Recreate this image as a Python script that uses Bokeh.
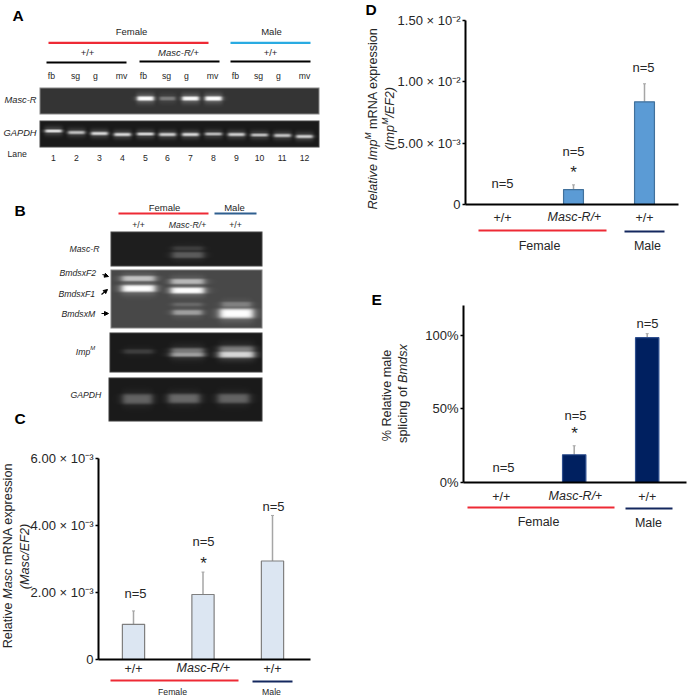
import math
import numpy as np
from bokeh.embed import file_html
from bokeh.layouts import row, column
from bokeh.models import (ColumnDataSource, FixedTicker, Label, NormalHead, Arrow,
                          PolyAnnotation, Range1d, TeeHead, Whisker)
from bokeh.plotting import figure
from bokeh.resources import INLINE

FONT = "Liberation Sans"
INK = "#262626"

# ---- bar data (y in units of the axis; C and D in 1e-3) ----
groups = ["+/+", "Masc-R/+", "+/+"]
c_values = [1.05, 1.94, 2.94]
c_errors = [1.45, 2.61, 4.30]
d_values = [0.0, 1.22, 8.37]
d_errors = [0.0, 1.60, 9.84]
e_values = [0.0, 18.8, 98.2]
e_errors = [0.0, 24.9, 100.9]
c_ticks = {0: "0", 2: "2.00 × 10⁻³", 4: "4.00 × 10⁻³", 6: "6.00 × 10⁻³"}
d_ticks = {0: "0", 5: "5.00 × 10⁻³", 10: "1.00 × 10⁻²", 15: "1.50 × 10⁻²"}
e_ticks = {0: "0%", 50: "50%", 100: "100%"}

# ---- gel lanes: x centre, y centre, half width, half height, level ----
lane_numbers = ["1", "2", "3", "4", "5", "6", "7", "8", "9", "10", "11", "12"]
tissues = ["fb", "sg", "g", "mv"] * 3
tissue_x = [51, 75, 95, 121, 143, 166, 186, 212, 235, 258, 278, 304]
lane_x = [53, 76, 99, 122, 145, 167, 190, 213, 236, 259, 282, 304]
a_r_bands = [(145, 98, 8.5, 2.5, 255), (167, 98, 8, 2.2, 125), (190, 98, 8.5, 2.4, 250), (213, 98, 8.5, 2.5, 255)]
gapdh_y = [130.5, 132, 133, 134, 133.5, 134, 134, 133.5, 134, 134.5, 135, 136]
gapdh_lv = [225, 190, 215, 215, 215, 205, 215, 185, 205, 190, 195, 205]
b_r_bands = [(187.5, 254.5, 16, 3.5, 92), (187.5, 248, 15.5, 2.6, 62)]
b_dsx_bands = [(138, 278, 17, 3, 195), (138, 288, 17, 3.8, 255), (187, 281, 17, 3, 185), (187, 290, 17, 3.4, 255),
               (187, 304, 15, 2, 105), (187, 312, 15, 2.8, 160), (236, 304, 15, 3, 130), (236, 313, 17, 5.2, 255)]
b_imp_bands = [(138, 351, 15, 2.6, 62), (187, 352, 16.5, 5, 125), (187, 354, 17, 2.6, 160),
               (236, 351, 17.5, 6, 130), (236, 354, 18, 3.6, 215)]
b_gap_bands = [(137, 398.5, 15, 5.5, 100), (183.5, 398, 16, 5.2, 105), (233, 398, 16, 5.2, 100)]

WIDTHS = dict(zip(" %()*+-/=", [278, 889, 333, 333, 389, 584, 333, 278, 584]))
WIDTHS.update(dict(zip("ABCDEFGHIJKLMNOPQRSTUVWXYZ", [667, 667, 722, 722, 667, 611, 778, 722, 278, 500, 667, 556, 833,
                                                      722, 778, 667, 778, 722, 667, 611, 722, 667, 944, 667, 667, 611])))
WIDTHS.update(dict(zip("abcdefghijklmnopqrstuvwxyz", [556, 556, 500, 556, 556, 278, 556, 556, 222, 222, 500, 222, 833,
                                                      556, 556, 556, 556, 333, 500, 278, 556, 500, 722, 500, 500, 500])))


def width(t, size):
    return sum(WIDTHS.get(ch, 556) for ch in t) * size / 1000


class Panel:
    """A figure whose frame fills its canvas; cal = (x0_px, step_px, axis_px, end_px, base_px, top_px, top_value)."""

    def __init__(self, fx, fy, w, h, cal=None, yticks=None):
        self.left, self.bottom = fx, fy + h
        if cal is None:
            xr, yr = (fx, fx + w), (-(fy + h), -fy)
        else:
            x0, step, axis_px, end_px, base, top_px, top_val = cal
            ppu = (base - top_px) / top_val
            xr = ((fx - x0) / step, (fx + w - x0) / step)
            yr = ((base - fy - h) / ppu, (base - fy) / ppu)
        self.p = figure(width=w, height=h, output_backend="svg", toolbar_location=None, frame_align=False,
                        x_range=Range1d(*xr), y_range=Range1d(*yr),
                        min_border_left=0, min_border_right=0, min_border_top=0, min_border_bottom=0,
                        background_fill_color=None, border_fill_color=None, outline_line_color=None)
        self.p.grid.visible = False
        if cal is None:
            self.p.axis.visible = False
            return
        for ax, ticks in ((self.p.xaxis, [0, 1, 2]), (self.p.yaxis, list(yticks))):
            ax.ticker = FixedTicker(ticks=ticks)
            ax.axis_line_width = 2
            ax.axis_line_color = "black"
            ax.major_tick_line_color = "black"
            ax.major_tick_line_width = 1.5
            ax.minor_tick_line_color = None
            ax.major_label_text_font = FONT
            ax.major_label_text_color = INK
        self.p.xaxis.fixed_location = 0
        self.p.yaxis.fixed_location = (axis_px - x0) / step
        self.p.xaxis.bounds = ((axis_px - x0) / step, (end_px - x0) / step)
        self.p.yaxis.bounds = (0, top_val)
        self.p.yaxis.major_label_overrides = dict(yticks)
        self.p.yaxis.major_tick_in = 0
        self.p.yaxis.major_tick_out = 3
        self.p.yaxis.major_label_standoff = 2
        self.p.yaxis.major_label_text_font_size = "13px"
        self.p.xaxis.major_tick_in = 0
        self.p.xaxis.major_tick_out = 0
        self.p.xaxis.major_label_text_font_size = "12.5px"
        self.p.xaxis.major_label_overrides = {0: groups[0], 1: " ", 2: groups[2]}

    def text(self, x, y, parts, size=9.5, align="center", angle=0, color=INK):
        """parts: text or list of (text, style[, 'sup'])."""
        if isinstance(parts, str):
            parts = [(parts, "normal")]
        sizes = [size * 0.68 if len(q) > 2 else size for q in parts]
        total = sum(width(q[0], s) for q, s in zip(parts, sizes))
        pos = {"center": -total / 2, "left": 0, "right": -total}[align]
        for q, s in zip(parts, sizes):
            off = size * 0.36 if len(q) > 2 else 0
            lead = width(q[0][: len(q[0]) - len(q[0].lstrip())], s)
            here = pos + lead
            px = x + here * math.cos(angle) - off * math.sin(angle)
            py = y - here * math.sin(angle) - off * math.cos(angle)
            self.p.add_layout(Label(x=px - self.left, y=self.bottom - py, x_units="screen", y_units="screen",
                                    text=q[0].strip(), text_font=FONT, text_font_style=q[1], text_font_size=f"{s}px",
                                    text_color=color, text_align="left", text_baseline="middle", angle=angle))
            pos += width(q[0], s)

    def rule(self, x0, x1, y, color, lw=2.2):
        xs = [x0 - self.left, x1 - self.left, x1 - self.left, x0 - self.left]
        ys = [self.bottom - y + lw / 2, self.bottom - y + lw / 2, self.bottom - y - lw / 2, self.bottom - y - lw / 2]
        self.p.add_layout(PolyAnnotation(xs=xs, ys=ys, xs_units="screen", ys_units="screen", fill_color=color,
                                         fill_alpha=1, line_color=None))

    def gel(self, x0, y0, x1, y1, bg, bands, edge=None):
        w, h = x1 - x0, y1 - y0
        xx, yy = np.meshgrid(np.arange(w) + x0 + 0.5, np.arange(h) + y0 + 0.5)
        img = np.full((h, w), float(bg))
        for cx, cy, hw, hh, lv in bands:
            shape = 1 / (1 + ((xx - cx) / hw) ** 8) * np.exp(-(((yy - cy) / hh) ** 4))
            img = np.maximum(img, bg + (lv - bg) * shape)
            img = np.maximum(img, bg + (lv - bg) * 0.3 * np.exp(-(((xx - cx) / (hw + 1)) ** 6) - ((yy - cy) / (hh + 2.5)) ** 2))
        if edge is not None:
            img[0, :] = img[-1, :] = edge
            img[:, 0] = img[:, -1] = edge
        rgba = np.zeros((h, w, 4), dtype=np.uint8)
        rgba[..., :3] = np.clip(img, 0, 255)[..., None].astype(np.uint8)
        rgba[..., 3] = 255
        self.p.image_rgba(image=[rgba[::-1].view(np.uint32).reshape(h, w)], x=x0, y=-y1, dw=w, dh=h)

    def bars(self, bar_width, values, errors, fill, line, err_color):
        src = ColumnDataSource(dict(x=[0, 1, 2], top=values, err=errors))
        self.p.vbar(x="x", top="top", bottom=0, width=bar_width, source=src, fill_color=fill, line_color=line, line_width=1.2)
        self.p.add_layout(Whisker(source=src, base="x", lower="top", upper="err", line_color=err_color, line_width=1.5,
                                  upper_head=TeeHead(size=3, line_color=err_color, line_width=1), lower_head=None))


# ---- A ----
A = Panel(0, 0, 344, 190)
a_gap_bands = [(x, y, 8.5, 1.8, lv) for x, y, lv in zip(lane_x, gapdh_y, gapdh_lv)]
A.gel(39, 87, 319, 114, 52, a_r_bands, edge=135)
A.gel(39, 120, 319, 147, 26, a_gap_bands, edge=70)
A.text(12, 15, [("A", "bold")], size=15.5, align="left", color="black")
A.text(131, 31, "Female")
A.text(271, 31, "Male")
A.rule(48, 208, 42.3, "#ee2a35")
A.rule(230, 310, 42.3, "#29abe2")
A.text(87, 52, "+/+")
A.text(178, 52, [("Masc-R/", "italic"), ("+", "normal")])
A.text(270, 52, "+/+")
A.rule(46, 126, 62, "black")
A.rule(139, 219, 61, "black")
A.rule(230, 310, 61, "black")
for x, t in zip(tissue_x, tissues):
    A.text(x, 75, t, size=8.7)
for x, t in zip(lane_x, lane_numbers):
    A.text(x, 157, t, size=8.7)
A.text(4, 99, [("Masc-R", "italic")], size=9.3, align="left")
A.text(3, 132, [("GAPDH", "italic")], size=9.3, align="left")
A.text(7, 153, "Lane", size=8.7, align="left")

# ---- B ----
B = Panel(0, 190, 344, 238)
B.gel(110, 231, 262, 266, 30, b_r_bands, edge=70)
B.gel(110, 269, 262, 328, 72, b_dsx_bands, edge=130)
B.gel(109, 332, 262, 372, 26, b_imp_bands, edge=60)
B.gel(108, 377, 262, 421, 26, b_gap_bands, edge=60)
B.text(14, 210, [("B", "bold")], size=15.5, align="left", color="black")
B.text(164, 207, "Female")
B.text(234, 207, "Male")
B.rule(118, 208, 213, "#ee2a35", 2)
B.rule(214, 256, 213, "#2f5f8f", 2)
B.text(138, 224, "+/+", size=8.7)
B.text(187, 224, [("Masc-R/", "italic"), ("+", "normal")], size=8.7)
B.text(235, 224, "+/+", size=8.7)
B.text(84, 248, [("Masc-R", "italic")], size=8.7)
B.text(59, 272, [("BmdsxF2", "italic")], size=8.7, align="left")
B.text(58, 293, [("BmdsxF1", "italic")], size=8.7, align="left")
B.text(61, 313, [("BmdsxM", "italic")], size=8.7, align="left")
B.text(85, 351, [("Imp", "italic"), ("M", "italic", "sup")], size=8.7)
B.text(70, 394, [("GAPDH", "italic")], size=8.7, align="left")
for xa, ya, xb, yb in [(102, 274, 108, 276), (101, 294, 107, 289), (101, 313, 108, 313)]:
    B.p.add_layout(Arrow(end=NormalHead(size=4, fill_color="black", line_color="black"), line_color="black", line_width=1.2,
                         x_start=xa, y_start=-ya, x_end=xb, y_end=-yb))
B.text(14, 418, [("C", "bold")], size=15.5, align="left", color="black")

# ---- C ----
C = Panel(0, 428, 344, 268, cal=(133, 69.5, 98, 310, 659, 458, 6), yticks=c_ticks)
C.bars(0.32, c_values, c_errors, "#dce6f2", "#7f7f7f", "#a6a6a6")
C.p.xaxis.major_label_standoff = 2
C.text(203, 667, [("Masc-R/", "italic"), ("+", "normal")], size=12.5)
C.rule(110, 238, 680, "#ee2a35")
C.rule(252, 292, 681, "#14285f")
C.text(172, 691, "Female", size=8.7)
C.text(271, 691, "Male", size=8.7)
for x, y in [(135, 593), (203, 541), (273, 506)]:
    C.text(x, y, "n=5", size=13)
C.text(203, 563, "*", size=17)
C.text(7, 555, [("Relative ", "normal"), ("Masc", "italic"), (" mRNA expression", "normal")], size=12.7, angle=math.pi / 2)
C.text(24, 556, [("(Masc/EF2)", "italic")], size=12.7, angle=math.pi / 2)

# ---- D ----
D = Panel(344, 0, 344, 290, cal=(502, 71, 465, 678, 204, 20, 15), yticks=d_ticks)
D.bars(0.28, d_values, d_errors, "#5b9bd5", "#41719c", "#a6a6a6")
D.p.xaxis.major_label_standoff = 6
D.text(574, 216, [("Masc-R/", "italic"), ("+", "normal")], size=12.5)
D.rule(478, 606, 230, "#ee2a35")
D.rule(624, 664, 231, "#14285f")
D.text(539, 245, "Female", size=12.5)
D.text(647, 245, "Male", size=12.5)
for x, y in [(502, 183), (573, 151), (643, 67)]:
    D.text(x, y, "n=5", size=13)
D.text(573, 172, "*", size=17)
D.text(365, 9, [("D", "bold")], size=15.5, align="left", color="black")
D.text(372, 118, [("Relative Imp", "italic"), ("M", "italic", "sup"), (" mRNA expression", "normal")], size=12.6, angle=math.pi / 2)
D.text(389, 118, [("(Imp", "italic"), ("M", "italic", "sup"), ("/EF2)", "italic")], size=12.6, angle=math.pi / 2)

# ---- E ----
E = Panel(344, 290, 344, 406, cal=(500.7, 73, 463, 686, 482, 305, 120), yticks=e_ticks)
E.bars(0.32, e_values, e_errors, "#002060", "#2f4f8f", "#a6a6a6")
E.p.xaxis.major_label_standoff = 7
E.text(575, 495, [("Masc-R/", "italic"), ("+", "normal")], size=12.5)
E.rule(467, 614, 507, "#ee2a35")
E.rule(625, 672, 508, "#14285f")
E.text(538, 521, "Female", size=12.5)
E.text(648, 522, "Male", size=12.5)
for x, y in [(503, 467), (575, 415), (647, 323)]:
    E.text(x, y, "n=5", size=13)
E.text(574, 433, "*", size=17)
E.text(371, 299, [("E", "bold")], size=15.5, align="left", color="black")
E.text(386, 395, "% Relative male", size=12.7, angle=math.pi / 2)
E.text(402, 393, [("splicing of ", "normal"), ("Bmdsx", "italic")], size=12.7, angle=math.pi / 2)

page = row(column(A.p, B.p, C.p, spacing=0), column(D.p, E.p, spacing=0), spacing=0, margin=(0, 0, 0, 0))
open("out.html", "w").write(file_html(page, INLINE))
